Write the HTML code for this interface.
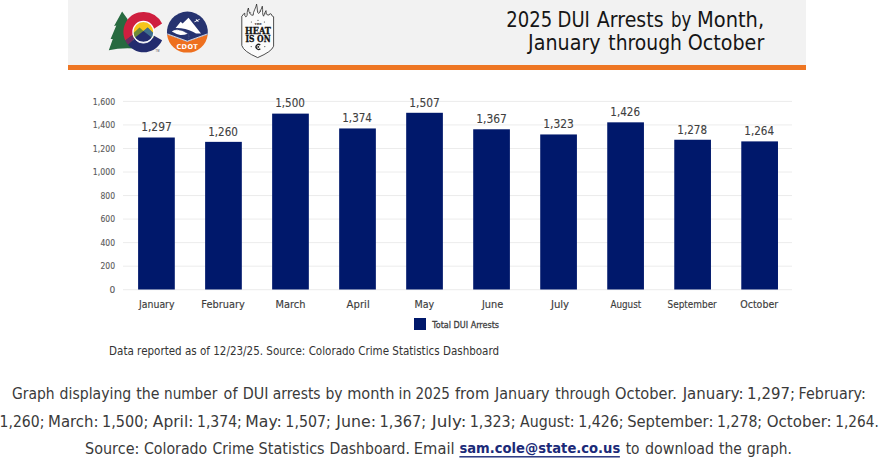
<!DOCTYPE html>
<html lang="en"><head><meta charset="utf-8"><title>2025 DUI Arrests by Month</title>
<style>
html,body{margin:0;padding:0;background:#ffffff;}
body{width:881px;height:462px;overflow:hidden;}
svg{display:block;}
svg text{font-family:'DejaVu Sans', 'Liberation Sans', sans-serif;}
</style></head><body>
<svg width="881" height="462" viewBox="0 0 881 462">
<rect x="68" y="0" width="738" height="65" fill="#f2f2f2"/>
<rect x="68" y="65" width="738" height="5" fill="#ee7623"/>
<g id="colorado">
<path d="M122.1 11.6 L127.5 19 L135 48.5 Q120 47.6 108.8 50.2 L112.8 38.9 L110.6 39.1 L116.3 25.6 L114.1 25.9 Z" fill="#276a40"/>
<path d="M143.4 11.9 A20 20 0 0 0 125.3 40.4 L132.75 34.66 A11 11 0 0 1 153.6 29.0 L162.1 23.6 A20 20 0 0 0 143.4 11.9 Z" fill="#cf1f3f"/>
<path d="M125.3 40.4 A20 20 0 0 0 128.1 44.8 L134.74 38.69 A11 11 0 0 1 132.75 34.66 Z" fill="#6c2a62"/>
<path d="M128.1 44.8 A20 20 0 0 0 162.1 40.2 L153.6 35.5 A11 11 0 0 1 134.74 38.69 Z" fill="#232c6e"/>
<circle cx="143.4" cy="31.9" r="10.2" fill="#f6c51b"/>
<path d="M133.0 33.6 L139.5 27.4 L143.4 30.9 L147.7 27.4 L154 33.8 L153.6 38 L133.4 38 Z" fill="#6f8a36"/>
<path d="M143.4 30.9 L147.7 27.4 L154 33.8 L153 38 L146 34 Z" fill="#3f6f8e"/>
<path d="M133.8 38.6 L143.4 30.9 L153 38.4 A10.2 10.2 0 0 1 133.8 38.6 Z" fill="#232c6e"/>
<circle cx="143.4" cy="31.9" r="10.5" fill="none" stroke="#ffffff" stroke-width="1.15"/>
<path d="M135.5 39.6 A10.5 10.5 0 0 0 151.3 39.6" fill="none" stroke="#ffffff" stroke-width="0.8"/>
<text x="155.6" y="52.0" font-size="2.6" fill="#444" style="font-family:'Liberation Sans',sans-serif">TM</text>
</g>
<g id="cdot">
<path d="M167.03 34.4 A20.5 20.5 0 1 1 207.77 34.4 L187.3 41.8 Z" fill="#263370"/>
<path d="M167.03 34.4 L187.3 41.8 L207.77 34.4 A20.5 20.5 0 0 1 167.03 34.4 Z" fill="#ee701f"/>
<path d="M167.3 33.9 L187.3 41.2 L207.5 33.9" fill="none" stroke="#ffffff" stroke-width="0.8"/>
<path d="M175.6 28.1 L180.7 21.7 L182.6 23.6 L188.5 17.8 L201.0 33.6 L196.0 33.6 Q190 29.6 181 28.3 Q177.5 28.0 175.6 28.1 Z" fill="#ffffff"/>
<path d="M171.8 31.6 Q174 29.6 177.4 29.8 Q183 30.4 187.6 33.8 Q184 35.2 180.3 35.0 Q175.6 34.0 171.8 31.6 Z" fill="#ffffff"/>
<path d="M175.2 30.0 Q183.5 30.2 187.4 33.2 Q189.6 35.2 188.6 38.6" fill="none" stroke="#7f89ad" stroke-width="0.45" stroke-dasharray="1.1 0.7"/>
<path d="M193.9 21.9 L196.2 20.6 L195.7 19.3 L196.4 19.2 L197.4 20.1 L199.3 19.0 Q200.3 18.6 200.0 19.3 L198.1 20.6 L198.6 22.0 L197.9 22.1 L197.2 21.1 L194.8 22.3 Z" fill="#ffffff"/>
<text transform="translate(187.3 48.7) scale(0.98 1)" font-size="6.7" font-weight="bold" fill="#ffffff" text-anchor="middle" letter-spacing="0.35">CDOT</text>
</g>
<g id="heat">
<path d="M241.8 16.3 L241.8 45.5 Q243.6 51.6 257.7 57.6 Q271.8 51.6 273.6 46.2 L273.6 16.6" fill="#fbfbfb" stroke="#3a3a3a" stroke-width="0.9"/>
<path d="M241.8 16.6 Q243.2 13.6 244.8 13.2 Q244.2 15.6 245.8 16.9 Q247.8 16.4 247.2 12.6 Q247.4 10 248.4 8.0 Q248.6 12.4 250.4 14.2 Q251.8 15.6 253.2 15.2 Q253.2 12.5 254.6 9.8 Q256 7 256.6 4.1 Q257.4 8.4 257.4 11 Q257.6 13.4 258.6 13.4 Q260.4 12.6 260.8 10 Q261.8 8 262.3 6.2 Q262.8 9.4 262.6 12.4 Q262.6 15.2 263.6 16.2 Q264.6 12.8 266.0 10.6 Q265.8 13.6 267.4 15.0 Q269.6 15.6 269.8 13.8 Q270.8 13.6 271.2 14.0 Q271.4 16 273.6 16.8" fill="#fbfbfb" stroke="#1e1e1e" stroke-width="0.75"/>
<path d="M249.6 13.2 Q250.4 11.8 251.2 12.8 M258.8 11.4 Q259.6 10.4 260.2 11.6 M264.8 14.2 Q265.4 13.2 266.2 14.4" fill="none" stroke="#2a2a2a" stroke-width="0.5"/>
<text transform="translate(258.1 25.3) scale(1.1 1)" font-size="2.7" font-weight="bold" fill="#222" text-anchor="middle" style="font-family:'DejaVu Serif',serif">THE</text>
<text transform="translate(258.0 34.0) scale(0.94 1)" font-size="8.7" font-weight="bold" fill="#111" stroke="#111" stroke-width="0.3" text-anchor="middle" style="font-family:'DejaVu Serif',serif">HEAT</text>
<text transform="translate(258.0 42.1) scale(0.87 1)" font-size="8.7" font-weight="bold" fill="#111" stroke="#111" stroke-width="0.3" text-anchor="middle" style="font-family:'DejaVu Serif',serif">IS ON</text>
<path d="M260.3 45.0 A2.55 2.55 0 1 0 260.3 48.8" fill="none" stroke="#1a1a1a" stroke-width="1.3"/>
<circle cx="258.3" cy="46.9" r="0.95" fill="#1a1a1a"/>
<circle cx="251.2" cy="46.6" r="0.6" fill="#444"/><circle cx="264.8" cy="46.6" r="0.6" fill="#444"/>
<circle cx="251.4" cy="22.0" r="0.6" fill="#444"/><circle cx="264.4" cy="22.0" r="0.6" fill="#444"/><circle cx="258.0" cy="20.3" r="0.6" fill="#444"/>
</g>

<rect x="123.0" y="289.20" width="669.0" height="1" fill="#ececec"/>
<rect x="123.0" y="265.66" width="669.0" height="1" fill="#ececec"/>
<rect x="123.0" y="242.12" width="669.0" height="1" fill="#ececec"/>
<rect x="123.0" y="218.59" width="669.0" height="1" fill="#ececec"/>
<rect x="123.0" y="195.05" width="669.0" height="1" fill="#ececec"/>
<rect x="123.0" y="171.51" width="669.0" height="1" fill="#ececec"/>
<rect x="123.0" y="147.97" width="669.0" height="1" fill="#ececec"/>
<rect x="123.0" y="124.44" width="669.0" height="1" fill="#ececec"/>
<rect x="123.0" y="100.90" width="669.0" height="1" fill="#ececec"/>
<rect x="138.10" y="137.51" width="36.7" height="151.99" fill="#00186b"/>
<rect x="205.12" y="141.86" width="36.7" height="147.64" fill="#00186b"/>
<rect x="272.14" y="113.62" width="36.7" height="175.88" fill="#00186b"/>
<rect x="339.16" y="128.45" width="36.7" height="161.05" fill="#00186b"/>
<rect x="406.18" y="112.79" width="36.7" height="176.71" fill="#00186b"/>
<rect x="473.20" y="129.27" width="36.7" height="160.23" fill="#00186b"/>
<rect x="540.22" y="134.45" width="36.7" height="155.05" fill="#00186b"/>
<rect x="607.24" y="122.33" width="36.7" height="167.17" fill="#00186b"/>
<rect x="674.26" y="139.75" width="36.7" height="149.75" fill="#00186b"/>
<rect x="741.28" y="141.39" width="36.7" height="148.11" fill="#00186b"/>
<rect x="414" y="318" width="12" height="12" fill="#00186b"/>
<text transform="translate(109.40 292.90) scale(1.0400 1)" font-size="8.7" fill="#5a5a5a" stroke="#5a5a5a" stroke-width="0.12">0</text>
<text transform="translate(100.50 269.36) scale(0.8783 1)" font-size="8.7" fill="#5a5a5a" stroke="#5a5a5a" stroke-width="0.12">200</text>
<text transform="translate(100.50 245.82) scale(0.8783 1)" font-size="8.7" fill="#5a5a5a" stroke="#5a5a5a" stroke-width="0.12">400</text>
<text transform="translate(100.50 222.29) scale(0.8783 1)" font-size="8.7" fill="#5a5a5a" stroke="#5a5a5a" stroke-width="0.12">600</text>
<text transform="translate(100.50 198.75) scale(0.8783 1)" font-size="8.7" fill="#5a5a5a" stroke="#5a5a5a" stroke-width="0.12">800</text>
<text transform="translate(92.80 175.21) scale(0.8955 1)" font-size="8.7" fill="#5a5a5a" stroke="#5a5a5a" stroke-width="0.12">1,000</text>
<text transform="translate(92.80 151.67) scale(0.8955 1)" font-size="8.7" fill="#5a5a5a" stroke="#5a5a5a" stroke-width="0.12">1,200</text>
<text transform="translate(92.80 128.14) scale(0.8955 1)" font-size="8.7" fill="#5a5a5a" stroke="#5a5a5a" stroke-width="0.12">1,400</text>
<text transform="translate(92.80 104.60) scale(0.8955 1)" font-size="8.7" fill="#5a5a5a" stroke="#5a5a5a" stroke-width="0.12">1,600</text>
<text transform="translate(141.14 131.26) scale(0.8634 1)" font-size="12.4" fill="#404040" stroke="#404040" stroke-width="0.12">1,297</text>
<text transform="translate(208.18 135.61) scale(0.8384 1)" font-size="12.4" fill="#404040" stroke="#404040" stroke-width="0.12">1,260</text>
<text transform="translate(275.20 107.37) scale(0.8384 1)" font-size="12.4" fill="#404040" stroke="#404040" stroke-width="0.12">1,500</text>
<text transform="translate(342.22 122.20) scale(0.8384 1)" font-size="12.4" fill="#404040" stroke="#404040" stroke-width="0.12">1,374</text>
<text transform="translate(409.22 106.54) scale(0.8634 1)" font-size="12.4" fill="#404040" stroke="#404040" stroke-width="0.12">1,507</text>
<text transform="translate(476.24 123.02) scale(0.8634 1)" font-size="12.4" fill="#404040" stroke="#404040" stroke-width="0.12">1,367</text>
<text transform="translate(543.26 128.20) scale(0.8634 1)" font-size="12.4" fill="#404040" stroke="#404040" stroke-width="0.12">1,323</text>
<text transform="translate(610.30 116.08) scale(0.8384 1)" font-size="12.4" fill="#404040" stroke="#404040" stroke-width="0.12">1,426</text>
<text transform="translate(677.32 133.50) scale(0.8384 1)" font-size="12.4" fill="#404040" stroke="#404040" stroke-width="0.12">1,278</text>
<text transform="translate(744.34 135.14) scale(0.8384 1)" font-size="12.4" fill="#404040" stroke="#404040" stroke-width="0.12">1,264</text>
<text transform="translate(139.02 307.60) scale(0.9194 1)" font-size="10.2" fill="#3c3c3c" stroke="#3c3c3c" stroke-width="0.15">January</text>
<text transform="translate(201.34 307.60) scale(0.9612 1)" font-size="10.2" fill="#3c3c3c" stroke="#3c3c3c" stroke-width="0.15">February</text>
<text transform="translate(275.43 307.60) scale(0.9663 1)" font-size="10.2" fill="#3c3c3c" stroke="#3c3c3c" stroke-width="0.15">March</text>
<text transform="translate(346.60 307.60) scale(0.9931 1)" font-size="10.2" fill="#3c3c3c" stroke="#3c3c3c" stroke-width="0.15">April</text>
<text transform="translate(414.46 307.60) scale(0.9385 1)" font-size="10.2" fill="#3c3c3c" stroke="#3c3c3c" stroke-width="0.15">May</text>
<text transform="translate(481.96 307.60) scale(0.9599 1)" font-size="10.2" fill="#3c3c3c" stroke="#3c3c3c" stroke-width="0.15">June</text>
<text transform="translate(550.90 307.60) scale(0.9952 1)" font-size="10.2" fill="#3c3c3c" stroke="#3c3c3c" stroke-width="0.15">July</text>
<text transform="translate(610.40 307.60) scale(0.8638 1)" font-size="10.2" fill="#3c3c3c" stroke="#3c3c3c" stroke-width="0.15">August</text>
<text transform="translate(667.60 307.60) scale(0.8736 1)" font-size="10.2" fill="#3c3c3c" stroke="#3c3c3c" stroke-width="0.15">September</text>
<text transform="translate(740.20 307.60) scale(0.9307 1)" font-size="10.2" fill="#3c3c3c" stroke="#3c3c3c" stroke-width="0.15">October</text>
<text transform="translate(432.17 327.70) scale(0.8686 1)" font-size="9.3" fill="#404040" stroke="#404040" stroke-width="0.3">Total DUI Arrests</text>
<text transform="translate(109.10 354.90) scale(0.9006 1)" font-size="11.5" fill="#333333">Data reported as of 12/23/25. Source: Colorado Crime Statistics Dashboard</text>
<a href="mailto:sam.cole@state.co.us"><text transform="translate(459.40 453.30) scale(0.9263 1)" font-size="14.2" fill="#1b2a78" font-weight="bold">sam.cole@state.co.us</text><rect x="459.4" y="456.1" width="160.5" height="1.4" fill="#1b2a78"/></a>
<g font-size="15.2" fill="#3a3a3a"><text transform="translate(11.90 398.60) scale(0.9160 1)">Graph</text><text transform="translate(59.60 398.60) scale(0.9261 1)">displaying</text><text transform="translate(136.30 398.60) scale(0.9357 1)">the</text><text transform="translate(164.00 398.60) scale(0.8995 1)">number</text><text transform="translate(223.60 398.60) scale(0.9482 1)">of</text><text transform="translate(242.76 398.60) scale(0.9431 1)">DUI</text><text transform="translate(272.70 398.60) scale(0.9159 1)">arrests</text><text transform="translate(325.38 398.60) scale(0.9183 1)">by</text><text transform="translate(347.14 398.60) scale(0.9587 1)">month</text><text transform="translate(398.48 398.60) scale(0.9247 1)">in</text><text transform="translate(415.41 398.60) scale(0.8922 1)">2025</text><text transform="translate(454.90 398.60) scale(0.9725 1)">from</text><text transform="translate(495.05 398.60) scale(0.9473 1)">January</text><text transform="translate(555.20 398.60) scale(0.9196 1)">through</text><text transform="translate(615.10 398.60) scale(0.9624 1)">October.</text><text transform="translate(682.69 398.60) scale(0.9891 1)">January:</text><text transform="translate(747.11 398.60) scale(0.9854 1)">1,297;</text><text transform="translate(798.56 398.60) scale(0.9438 1)">February:</text></g>
<g font-size="15.2" fill="#3a3a3a"><text transform="translate(-0.42 426.50) scale(0.9230 1)">1,260;</text><text transform="translate(48.02 426.50) scale(0.9818 1)">March:</text><text transform="translate(102.05 426.50) scale(0.9510 1)">1,500;</text><text transform="translate(152.80 426.50) scale(1.0203 1)">April:</text><text transform="translate(196.98 426.50) scale(0.9230 1)">1,374;</text><text transform="translate(245.37 426.50) scale(1.0303 1)">May:</text><text transform="translate(285.37 426.50) scale(0.9338 1)">1,507;</text><text transform="translate(336.34 426.50) scale(1.0401 1)">June:</text><text transform="translate(379.54 426.50) scale(0.9574 1)">1,367;</text><text transform="translate(431.71 426.50) scale(1.1055 1)">July:</text><text transform="translate(469.76 426.50) scale(0.9424 1)">1,323;</text><text transform="translate(520.10 426.50) scale(0.9344 1)">August:</text><text transform="translate(578.17 426.50) scale(0.9338 1)">1,426;</text><text transform="translate(627.13 426.50) scale(0.9714 1)">September:</text><text transform="translate(716.97 426.50) scale(0.9295 1)">1,278;</text><text transform="translate(766.70 426.50) scale(0.9905 1)">October:</text><text transform="translate(835.30 426.50) scale(0.8993 1)">1,264.</text></g>
<g font-size="15.2" fill="#3a3a3a"><text transform="translate(85.05 453.60) scale(0.9481 1)">Source:</text><text transform="translate(143.90 453.60) scale(0.9334 1)">Colorado</text><text transform="translate(212.60 453.60) scale(0.9206 1)">Crime</text><text transform="translate(258.55 453.60) scale(0.9516 1)">Statistics</text><text transform="translate(329.38 453.60) scale(0.9239 1)">Dashboard.</text><text transform="translate(413.83 453.60) scale(0.9670 1)">Email</text></g>
<g font-size="15.2" fill="#3a3a3a"><text transform="translate(625.70 453.60) scale(0.9094 1)">to</text><text transform="translate(644.90 453.60) scale(0.9410 1)">download</text><text transform="translate(719.00 453.60) scale(0.9154 1)">the</text><text transform="translate(747.10 453.60) scale(0.9059 1)">graph.</text></g>
<g font-size="20.5" fill="#161616"><text transform="translate(506.32 27.20) scale(0.8817 1)">2025</text><text transform="translate(557.54 27.20) scale(0.8790 1)">DUI</text><text transform="translate(596.80 27.20) scale(0.9258 1)">Arrests</text><text transform="translate(670.89 27.20) scale(0.8121 1)">by</text><text transform="translate(697.00 27.20) scale(0.9487 1)">Month,</text></g>
<g font-size="20.5" fill="#161616"><text transform="translate(528.07 50.00) scale(0.9336 1)">January</text><text transform="translate(608.30 50.00) scale(0.9151 1)">through</text><text transform="translate(687.67 50.00) scale(0.9337 1)">October</text></g>
</svg>
</body></html>
